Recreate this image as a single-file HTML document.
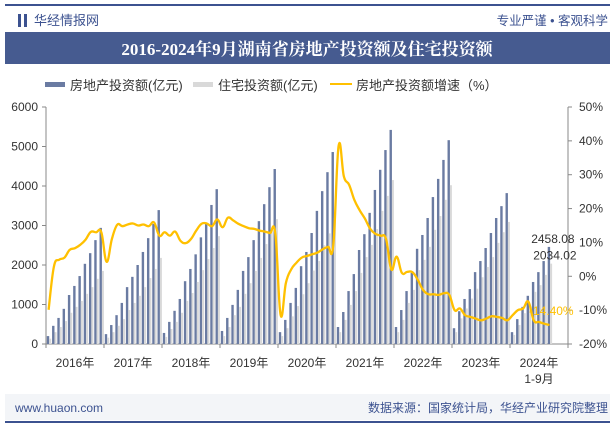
<!DOCTYPE html>
<html><head><meta charset="utf-8"><style>
body{margin:0;width:615px;height:427px;overflow:hidden;background:#fff;font-family:"Liberation Sans","Noto Sans CJK SC",sans-serif;}
svg{display:block}
</style></head><body>
<svg id="c" width="615" height="427">
<rect x="5" y="4" width="605" height="2" fill="#3c5290"/>
<rect x="18" y="14" width="3" height="13" fill="#3c5290"/>
<rect x="24" y="14" width="3" height="13" fill="#3c5290"/>
<text x="34" y="25" font-size="13" fill="#3c5290">华经情报网</text>
<text x="608" y="25" font-size="12.5" fill="#3c5290" text-anchor="end">专业严谨 • 客观科学</text>
<rect x="5" y="32" width="605" height="32" fill="#465b90"/>
<text x="307" y="55" font-size="17" font-weight="bold" fill="#fff" text-anchor="middle" font-family="'Liberation Serif','Noto Serif CJK SC',serif">2016-2024年9月湖南省房地产投资额及住宅投资额</text>
<g font-size="13" fill="#333">
<rect x="45" y="82" width="20" height="5" fill="#6a7ba2"/>
<text x="70" y="90">房地产投资额(亿元)</text>
<rect x="193" y="82" width="20" height="5" fill="#d9d9d9"/>
<text x="218" y="90">住宅投资额(亿元)</text>
<rect x="330" y="83" width="22" height="2" fill="#ffc000"/>
<text x="356" y="90">房地产投资额增速（%）</text>
</g>
<g id="plot"></g>
<rect x="5" y="394" width="605" height="26" fill="#f3f5f8"/>
<rect x="5" y="421" width="605" height="2" fill="#3c5290"/>
<text x="15" y="412" font-size="12" fill="#3c5290">www.huaon.com</text>
<text x="608" y="412" font-size="12" fill="#3c5290" text-anchor="end">数据来源：国家统计局，华经产业研究院整理</text>
</svg>
<script>
const years=["2016年","2017年","2018年","2019年","2020年","2021年","2022年","2023年","2024年"];
const leftTicks=[0,1000,2000,3000,4000,5000,6000];
const rightTicks=[-20,-10,0,10,20,30,40,50];
const invest=[
200,460,660,890,1240,1470,1720,2030,2300,2630,2940,
250,480,730,1040,1440,1700,2000,2330,2680,3040,3390,
280,560,840,1140,1590,1900,2270,2700,3060,3520,3920,
330,660,990,1370,1850,2200,2630,3110,3540,3970,4430,
300,610,1040,1420,1970,2330,2810,3370,3870,4350,4860,
430,810,1340,1770,2380,2780,3320,3900,4410,4910,5420,
430,860,1340,1800,2410,2760,3190,3720,4180,4660,5160,
400,830,1140,1390,1820,2100,2430,2810,3190,3490,3820,
300,630,940,1220,1570,1820,2100,2458.08];
const resid=[
135,300,430,580,790,940,1090,1270,1440,1650,1850,
160,300,460,630,860,1040,1220,1440,1670,1900,2180,
180,380,560,790,1090,1290,1570,1870,2150,2430,2730,
200,430,730,940,1270,1540,1850,2180,2530,2890,3160,
200,400,700,960,1260,1540,1860,2100,2500,2800,3190,
300,610,990,1340,1800,2200,2510,2910,3370,3750,4150,
300,610,1040,1370,1870,2130,2460,2890,3240,3650,4020,
300,650,900,1150,1400,1690,1950,2200,2560,2830,3090,
230,480,780,990,1320,1490,1750,2034.02];
const growth=[
-9.9,2.8,4.9,5.5,7.8,8.3,9.3,10.8,13.1,13,13,
4.3,11,15.2,14.8,15.3,15.6,15,15.3,14.8,15.9,12,
13,12,13.2,10.5,9.8,11,13.5,15.5,15.6,14.8,16.8,
14.5,17.3,16.5,15.5,14.8,14.2,14,13.5,13.2,12.8,12.6,
-11.4,-2,2,4,5.5,6,6.5,7,8,8.7,9.3,
38.5,29.5,27,22.5,19.5,17,14,12.5,12,11,2,
5.8,1,1.3,1.2,-1,-4,-5.3,-5.3,-5.5,-5,-5.5,
-10,-9.5,-11.5,-12,-12.5,-13,-12.5,-11.8,-12,-12.3,-13,
-11.5,-10,-9.5,-7.5,-13,-13.5,-14,-14.4];
const NS="http://www.w3.org/2000/svg";
const X0=46,X1=568,Y0=344,Y1=107,N=99,slot=(X1-X0)/N;
const yL=v=>Y0-(v/6000)*(Y0-Y1);
const yR=v=>Y0-((v+20)/70)*(Y0-Y1);
const xs=i=>X0+i*slot;
const g=document.getElementById('plot');
function mk(t,a){const e=document.createElementNS(NS,t);for(const k in a)e.setAttribute(k,a[k]);g.appendChild(e);return e;}
let e;
e=mk('line',{x1:X0,y1:Y1,x2:X0,y2:Y0,stroke:'#888'});


e=mk('line',{x1:X1,y1:Y1,x2:X1,y2:Y0,stroke:'#888'});


e=mk('line',{x1:X0,y1:Y0,x2:X1,y2:Y0,stroke:'#888'});


leftTicks.forEach(v=>{
 mk('line',{x1:X0-4,x2:X0,y1:yL(v),y2:yL(v),stroke:'#888'});
 e=mk('text',{x:38,y:yL(v)+4,'font-size':12,fill:'#333','text-anchor':'end'});e.textContent=v;
 
 
});
rightTicks.forEach(v=>{
 mk('line',{x1:X1,x2:X1+4,y1:yR(v),y2:yR(v),stroke:'#888'});
 e=mk('text',{x:579,y:yR(v)+4,'font-size':12,fill:'#333'});e.textContent=v+'%';
 
 
});
years.forEach((y,k)=>{
 const a=X0+k*11*slot;
 mk('line',{x1:a,x2:a,y1:Y0,y2:Y0+4,stroke:'#888'});
 e=mk('text',{x:a+5.5*slot,y:367,'font-size':12,fill:'#333','text-anchor':'middle'});e.textContent=y;
 
 
});
mk('line',{x1:X1,x2:X1,y1:Y0,y2:Y0+4,stroke:'#888'});
e=mk('text',{x:X0+8*11*slot+5.5*slot,y:383,'font-size':12,fill:'#333','text-anchor':'middle'});e.textContent='1-9月';


invest.forEach((v,i)=>{
 e=mk('rect',{x:xs(i)+0.8,y:yL(v),width:2.4,height:Y0-yL(v),fill:'#6a7ba2'});
 
 
});
resid.forEach((v,i)=>{
 e=mk('rect',{x:xs(i)+3.2,y:yL(v),width:2,height:Y0-yL(v),fill:'#d9d9d9'});
 
 
});
const pts=growth.map((v,i)=>[xs(i)+2.6,yR(v)]);
let d='M'+pts[0][0]+','+pts[0][1];
const T=0.2;
for(let i=1;i<pts.length;i++){
 const p0=pts[Math.max(0,i-2)],p1=pts[i-1],p2=pts[i],p3=pts[Math.min(pts.length-1,i+1)];
 const c1=[p1[0]+(p2[0]-p0[0])*T,p1[1]+(p2[1]-p0[1])*T];
 const c2=[p2[0]-(p3[0]-p1[0])*T,p2[1]-(p3[1]-p1[1])*T];
 d+=` C${c1[0]},${c1[1]} ${c2[0]},${c2[1]} ${p2[0]},${p2[1]}`;
}
e=mk('path',{d:d,fill:'none',stroke:'#ffc000','stroke-width':2.3,'stroke-linejoin':'round'});


const L=invest.length-1;
e=mk('text',{x:xs(L)+6,y:yL(invest[L])-4,'font-size':12,fill:'#333','text-anchor':'middle'});e.textContent=invest[L].toFixed(2);


e=mk('text',{x:xs(L)+8,y:yL(resid[L])-4,'font-size':12,fill:'#333','text-anchor':'middle'});e.textContent=resid[L].toFixed(2);


e=mk('text',{x:xs(L)-18,y:yR(growth[L])-10,'font-size':12,fill:'#ffc000'});e.textContent=growth[L].toFixed(2)+'%';


</script>
</body></html>
